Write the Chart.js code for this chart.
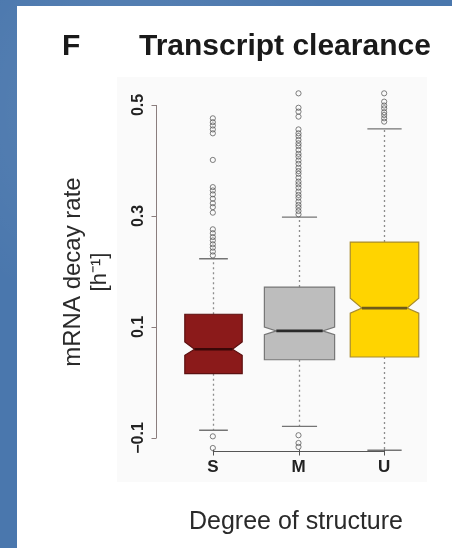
<!DOCTYPE html>
<html>
<head>
<meta charset="utf-8">
<script src="https://cdn.jsdelivr.net/npm/chart.js@4/dist/chart.umd.min.js"></script>
<style>
  html, body { margin: 0; padding: 0; width: 452px; height: 548px; overflow: hidden; }
  body {
    position: relative;
    background-color: #4a77ad;
    background-image:
      radial-gradient(circle at 30% 20%, rgba(255,255,255,0.10), rgba(255,255,255,0) 40%),
      radial-gradient(circle at 70% 80%, rgba(0,0,0,0.08), rgba(0,0,0,0) 45%);
  }
  #sheet { position: absolute; left: 17px; top: 6px; width: 435px; height: 542px; background: #ffffff; }
  #panel { position: absolute; left: 117px; top: 77px; width: 310px; height: 405px; background: #fafafa; }
  canvas { position: absolute; left: 0; top: 0; }
</style>
</head>
<body>
<div id="sheet"></div>
<div id="panel"></div>
<canvas id="chart" width="452" height="548"></canvas>
<script>
// Groups on the x axis
const categories = ['S', 'M', 'U'];

// Five-number summaries and notch limits per group (mRNA decay rate, h^-1)
const lowerWhisker = [-0.086, -0.079, -0.122];
const q1           = [0.016, 0.041, 0.046];
const notchLow     = [0.049, 0.086, 0.125];
const median       = [0.060, 0.093, 0.134];
const notchHigh    = [0.073, 0.100, 0.152];
const q3           = [0.123, 0.172, 0.253];
const upperWhisker = [0.223, 0.298, 0.457];

// Points beyond the whiskers
const outliersS = [0.476, 0.469, 0.463, 0.456, 0.449, 0.401,
                   0.352, 0.346, 0.339, 0.331, 0.323, 0.316, 0.306,
                   0.276, 0.269, 0.262, 0.256, 0.249, 0.243, 0.236, 0.229,
                   -0.097, -0.118];
const outliersM = [0.521, 0.495, 0.488, 0.479,
                   0.456, 0.449, 0.444, 0.437, 0.431, 0.426, 0.419, 0.412, 0.407,
                   0.400, 0.394, 0.387, 0.381, 0.376, 0.369, 0.362, 0.357, 0.351,
                   0.344, 0.338, 0.333, 0.326, 0.320, 0.315, 0.309, 0.303,
                   -0.095, -0.109, -0.116];
const outliersU = [0.521, 0.506, 0.499, 0.494, 0.487, 0.482, 0.476, 0.470];

// Axis ticks
const yTicks = [-0.1, 0.1, 0.3, 0.5];
const yTickLabels = ['\u22120.1', '0.1', '0.3', '0.5'];

// Styling
const FONT = '"Liberation Sans", Arial, Helvetica, sans-serif';
const boxFill   = ['#8b1a1a', '#bdbdbd', '#ffd400'];
const boxEdge   = ['#5c1010', '#777777', '#a88c2c'];
const medianInk = ['#3a0707', '#2a2a2a', '#6e5a1a'];
const boxWidthFrac = [0.67, 0.82, 0.80];
const notchDepth = 0.17;

const outlierPoints = [
  ...outliersS.map(v => ({ x: 'S', y: v })),
  ...outliersM.map(v => ({ x: 'M', y: v })),
  ...outliersU.map(v => ({ x: 'U', y: v }))
];

// Notched boxes with dashed whiskers and staples
const notchedBoxes = {
  id: 'notchedBoxes',
  beforeDatasetsDraw(chart) {
    const { ctx, scales: { x, y } } = chart;
    const band = x.getPixelForValue(1) - x.getPixelForValue(0);
    categories.forEach((cat, i) => {
      const cx = Math.round(x.getPixelForValue(i)) + 0.5;
      const half = band * boxWidthFrac[i] / 2;
      const inset = half * 2 * notchDepth;
      const yLw = y.getPixelForValue(lowerWhisker[i]);
      const yQ1 = y.getPixelForValue(q1[i]);
      const yNl = y.getPixelForValue(notchLow[i]);
      const yMd = y.getPixelForValue(median[i]);
      const yNh = y.getPixelForValue(notchHigh[i]);
      const yQ3 = y.getPixelForValue(q3[i]);
      const yUw = y.getPixelForValue(upperWhisker[i]);

      ctx.save();
      // whiskers
      ctx.strokeStyle = '#8c8c8c';
      ctx.lineWidth = 1.3;
      ctx.setLineDash([2, 3]);
      ctx.beginPath();
      ctx.moveTo(cx, yQ3); ctx.lineTo(cx, yUw);
      ctx.moveTo(cx, yQ1); ctx.lineTo(cx, yLw);
      ctx.stroke();
      ctx.setLineDash([]);
      // staples
      ctx.strokeStyle = '#747474';
      ctx.lineWidth = 1.4;
      ctx.beginPath();
      ctx.moveTo(cx - half / 2, yUw); ctx.lineTo(cx + half / 2, yUw);
      ctx.moveTo(cx - half / 2, yLw); ctx.lineTo(cx + half / 2, yLw);
      ctx.stroke();
      // notched box
      ctx.beginPath();
      ctx.moveTo(cx - half, yQ3);
      ctx.lineTo(cx + half, yQ3);
      ctx.lineTo(cx + half, yNh);
      ctx.lineTo(cx + half - inset, yMd);
      ctx.lineTo(cx + half, yNl);
      ctx.lineTo(cx + half, yQ1);
      ctx.lineTo(cx - half, yQ1);
      ctx.lineTo(cx - half, yNl);
      ctx.lineTo(cx - half + inset, yMd);
      ctx.lineTo(cx - half, yNh);
      ctx.closePath();
      ctx.fillStyle = boxFill[i];
      ctx.fill();
      ctx.strokeStyle = boxEdge[i];
      ctx.lineWidth = 1.2;
      ctx.stroke();
      // median
      ctx.strokeStyle = medianInk[i];
      ctx.lineWidth = 2.6;
      ctx.beginPath();
      ctx.moveTo(cx - half + inset, yMd);
      ctx.lineTo(cx + half - inset, yMd);
      ctx.stroke();
      ctx.restore();
    });
  }
};

// R-style axes, tick labels and titles
const frameText = {
  id: 'frameText',
  afterDraw(chart) {
    const { ctx, chartArea, scales: { x, y } } = chart;
    ctx.save();

    // y axis
    const ax = chartArea.left - 13.5;
    ctx.strokeStyle = '#8a7d7d';
    ctx.lineWidth = 1;
    ctx.beginPath();
    ctx.moveTo(ax, y.getPixelForValue(yTicks[0]));
    ctx.lineTo(ax, y.getPixelForValue(yTicks[yTicks.length - 1]));
    yTicks.forEach(t => {
      const py = Math.round(y.getPixelForValue(t)) + 0.5;
      ctx.moveTo(ax, py); ctx.lineTo(ax - 5, py);
    });
    ctx.stroke();

    ctx.fillStyle = '#222';
    ctx.font = 'bold 16px ' + FONT;
    ctx.textAlign = 'center';
    ctx.textBaseline = 'middle';
    yTicks.forEach((t, k) => {
      ctx.save();
      ctx.translate(139, y.getPixelForValue(t));
      ctx.rotate(-Math.PI / 2);
      ctx.fillText(yTickLabels[k], 0, 0);
      ctx.restore();
    });

    // x axis
    const ay = Math.round(chartArea.bottom) + 0.5;
    ctx.strokeStyle = '#555';
    ctx.beginPath();
    ctx.moveTo(x.getPixelForValue(0), ay);
    ctx.lineTo(x.getPixelForValue(categories.length - 1), ay);
    categories.forEach((c, i) => {
      const px = Math.round(x.getPixelForValue(i)) + 0.5;
      ctx.moveTo(px, ay - 2); ctx.lineTo(px, ay + 4);
    });
    ctx.stroke();

    ctx.font = 'bold 17px ' + FONT;
    ctx.fillStyle = '#222';
    categories.forEach((c, i) => {
      ctx.fillText(c, x.getPixelForValue(i), 467);
    });

    // axis titles
    ctx.fillStyle = '#2a2a2a';
    ctx.font = '24px ' + FONT;
    ctx.textBaseline = 'alphabetic';
    ctx.save();
    ctx.translate(80, 272);
    ctx.rotate(-Math.PI / 2);
    ctx.fillText('mRNA decay rate', 0, 0);
    ctx.font = '22px ' + FONT;
    ctx.fillText('[h\u207B\u00B9]', 0, 26);
    ctx.restore();

    ctx.font = '25px ' + FONT;
    ctx.fillText('Degree of structure', 296, 529);

    // heading
    ctx.fillStyle = '#1a1a1a';
    ctx.font = 'bold 30px ' + FONT;
    ctx.textAlign = 'left';
    ctx.fillText('F', 62, 55);
    ctx.fillText('Transcript clearance', 139, 55);

    ctx.restore();
  }
};

new Chart(document.getElementById('chart'), {
  type: 'scatter',
  data: {
    labels: categories,
    datasets: [{
      label: 'Outliers',
      data: outlierPoints,
      pointStyle: 'circle',
      pointRadius: 2.6,
      pointBorderWidth: 1,
      borderColor: 'rgba(85,85,85,0.75)',
      backgroundColor: 'rgba(255,255,255,0)'
    }]
  },
  options: {
    responsive: false,
    animation: false,
    events: [],
    layout: { padding: { left: 170, right: 25, top: 88, bottom: 97 } },
    plugins: { legend: { display: false }, title: { display: false }, tooltip: { enabled: false } },
    scales: {
      x: { type: 'category', labels: categories, offset: true, display: false },
      y: { type: 'linear', min: -0.1234, max: 0.5306, display: false }
    }
  },
  plugins: [notchedBoxes, frameText]
});
</script>
</body>
</html>
